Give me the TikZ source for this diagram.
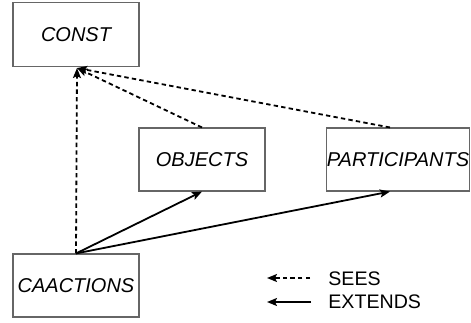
\documentclass[tikz,border=0pt]{standalone}
\usepackage{fontspec}
\setmainfont{Liberation Sans}
\usetikzlibrary{arrows.meta,calc}
\tikzset{
	machine/.style={draw=black!60, line width=0.55pt, inner sep=0pt, font=\fontsize{10}{12}\selectfont\itshape},
	sees/.style={-{Stealth[length=5pt,width=4pt,inset=1pt]}, line width=0.9pt, dash pattern=on 2.2pt off 1.6pt},
	extends/.style={-{Stealth[length=5pt,width=4pt,inset=1pt]}, line width=0.9pt},
	legend/.style={anchor=west, inner sep=0pt, font=\fontsize{9.8}{12}\selectfont}
}

\begin{document}
\begin{tikzpicture}[x=0.5pt, y=-0.5pt]
		%%%%% START %%%%%
		\useasboundingbox (0, 0) rectangle (471, 322);
		
		\node[machine, minimum width=63pt, minimum height=32pt] (const) at (76, 34.5) {CONST};
		\node[machine, minimum width=63pt, minimum height=31.5pt] (objects) at (202, 159.5) {OBJECTS};
		\node[machine, minimum width=71pt, minimum height=31.5pt] (participants) at (398, 159.5) {PARTICIPANTS};
		\node[machine, minimum width=63pt, minimum height=31.5pt] (caactions) at (76, 285.5) {CAACTIONS};
		
		\coordinate (tip) at ($(const.south)+(1, 1)$);
		\coordinate (partin) at ($(participants.south)+(-8, 0)$);
		\coordinate (partout) at ($(participants.north)+(-8, 0)$);
		
		% sees
		\draw[sees] (objects.north) -- (tip);
		\draw[sees] (partout) -- (tip);
		\draw[sees] (caactions.north) -- (tip);
		
		% extends
		\draw[extends] (caactions.north) -- (objects.south);
		\draw[extends] (caactions.north) -- (partin);
		
		% legend
		\node[legend] (seestext) at (328, 279) {SEES};
		\node[legend] (extendstext) at (328, 302) {EXTENDS};
		\coordinate (seestail) at (310, 278);
		\coordinate (seestip) at (267, 278);
		\coordinate (extendstail) at (311, 302);
		\coordinate (extendstip) at (267, 302);
		\draw[sees] (seestail) -- (seestip);
		\draw[extends] (extendstail) -- (extendstip);
		
		%%%%% END %%%%%
	\end{tikzpicture}
\end{document}
